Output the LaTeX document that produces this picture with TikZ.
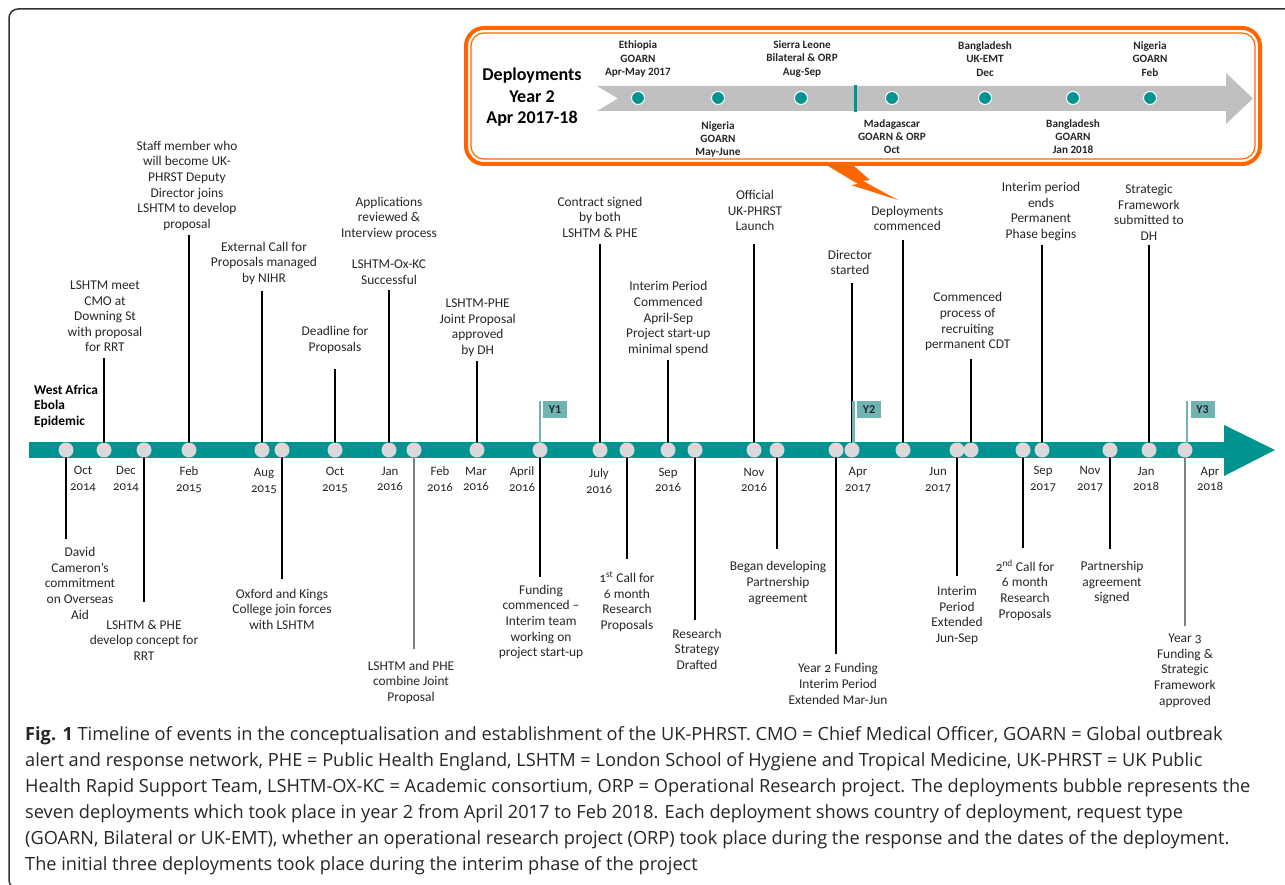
\documentclass[tikz,border=0pt]{standalone}
\usepackage{fontspec}
\setmainfont{Carlito}
\newfontfamily\capfont{Open Sans}
\definecolor{barteal}{RGB}{0,148,144}
\definecolor{dotgray}{RGB}{217,217,217}
\definecolor{flagteal}{RGB}{111,180,178}
\definecolor{bolt}{RGB}{255,102,0}
\definecolor{arrowgray}{RGB}{192,192,192}
\definecolor{ink}{RGB}{38,38,38}
\definecolor{framegray}{RGB}{51,51,51}

\begin{document}
\begin{tikzpicture}[x=1pt,y=-1pt]
  \tikzstyle{every node}+=[inner sep=0pt]
  \tikzstyle{lbl}=[align=center,inner ysep=4pt,text=ink,font=\fontsize{13.4}{15.6}\selectfont\addfontfeatures{Numbers=OldStyle}]
  \tikzstyle{month}=[align=center,text=ink,font=\fontsize{12.8}{15.7}\selectfont\addfontfeatures{Numbers=OldStyle}]
  \tikzstyle{evdot}=[circle,fill=dotgray,minimum size=15pt]
  \tikzstyle{stem}=[black,line width=1.2pt]
  \tikzstyle{greystem}=[gray,line width=1.2pt]
  \tikzstyle{flag}=[fill=flagteal,minimum width=24pt,minimum height=17pt,text=ink,font=\fontsize{12}{12}\selectfont\bfseries]
  \tikzstyle{pole}=[flagteal,line width=2.4pt]
  \tikzstyle{dep}=[align=center,text=ink,font=\fontsize{11.2}{13.2}\selectfont\bfseries]
  \tikzstyle{depdot}=[circle,fill=barteal,draw=white,line width=1pt,minimum size=13pt]

  \useasboundingbox (0,0) rectangle (1285,885);
  \clip (0,0) rectangle (1285,885);
  \draw [framegray,line width=1.5pt,rounded corners=9pt] (9,9) rectangle (1300,889);

  % deployments bubble
  \draw [bolt,line width=4pt,rounded corners=18pt] (466,28) rectangle (1260,164);
  \draw [bolt,line width=1.2pt,rounded corners=13pt] (471,33) rectangle (1255,159);
  \fill [bolt] (828,166) -- (854,166) -- (870,180) -- (863,181) -- (898,200) -- (851,185) -- (858,184) -- cycle;
  \fill [arrowgray] (597,86) -- (1226,86) -- (1226,73) -- (1253,98.5) -- (1226,124) -- (1226,111) -- (597,111) -- (618,98.5) -- cycle;
  \draw [barteal,line width=3pt] (855,85) -- (855,112);
  \node [text=black,align=center,font=\fontsize{18}{21.6}\selectfont\bfseries] (dtitle) at (532,97.5) {Deployments\\Year 2\\Apr 2017-18};

  \node [depdot] (d1) at (638,98) {};
    \node [dep] (t1) at (638,59) {Ethiopia\\GOARN\\Apr-May 2017};
  \node [depdot] (d2) at (718,98) {};
    \node [dep] (t2) at (718,139.3) {Nigeria\\GOARN\\May-June};
  \node [depdot] (d3) at (801,98) {};
    \node [dep] (t3) at (802,59) {Sierra Leone\\Bilateral \& ORP\\Aug-Sep};
  \node [depdot] (d4) at (892,98) {};
    \node [dep] (t4) at (892,136.4) {Madagascar\\GOARN \& ORP\\Oct};
  \node [depdot] (d5) at (985,98) {};
    \node [dep] (t5) at (985,59) {Bangladesh\\UK-EMT\\Dec};
  \node [depdot] (d6) at (1073,98) {};
    \node [dep] (t6) at (1073,136.4) {Bangladesh\\GOARN\\Jan 2018};
  \node [depdot] (d7) at (1150,98) {};
    \node [dep] (t7) at (1150,59) {Nigeria\\GOARN\\Feb};

  % main timeline
  \fill [barteal] (29,441.5) rectangle (1226,457.5);
  \fill [barteal] (1224,425) -- (1275,450) -- (1224,476) -- cycle;
  \node [anchor=west,align=left,text=black,font=\fontsize{13.4}{15.6}\selectfont\bfseries] (ebola) at (34,406) {West Africa\\Ebola\\Epidemic};

  \coordinate (e1) at (66,450);
  \coordinate (e2) at (104,450);
  \coordinate (e3) at (144,450);
  \coordinate (e4) at (189,450);
  \coordinate (e5) at (262,450);
  \coordinate (e6) at (282,450);
  \coordinate (e7) at (335,450);
  \coordinate (e8) at (389,450);
  \coordinate (e9) at (414,450);
  \coordinate (e10) at (477,450);
  \coordinate (e11) at (540,450);
  \coordinate (e12) at (600,450);
  \coordinate (e13) at (627,450);
  \coordinate (e14) at (668,450);
  \coordinate (e15) at (695,450);
  \coordinate (e16) at (754,450);
  \coordinate (e17) at (777,450);
  \coordinate (e18) at (836,450);
  \coordinate (e19) at (852,450);
  \coordinate (e20) at (903,450);
  \coordinate (e21) at (957,450);
  \coordinate (e22) at (971,450);
  \coordinate (e23) at (1023,450);
  \coordinate (e24) at (1042,450);
  \coordinate (e25) at (1110,450);
  \coordinate (e26) at (1149,450);
  \coordinate (e27) at (1185,450);

  % events above the line
  \node [lbl] (l2) at (105,316.3) {LSHTM meet\\CMO at\\Downing St\\with proposal\\for RRT};
    \draw [stem,shorten >=2pt] (e2) -- (e2 |- l2.south);
  \node [lbl] (l4) at (187,185.7) {Staff member who\\will become UK-\\PHRST Deputy\\Director joins\\LSHTM to develop\\proposal};
    \draw [stem] (e4) -- (e4 |- l4.south);
  \node [lbl] (l5) at (264,263.3) {External Call for\\Proposals managed\\by NIHR};
    \draw [stem,shorten >=2pt] (e5) -- (e5 |- l5.south);
  \node [lbl] (l7) at (335,340.2) {Deadline for\\Proposals};
    \draw [stem,shorten >=11pt] (e7) -- (e7 |- l7.south);
  \node [lbl] (l8) at (389,240.5) {Applications\\reviewed \&\\Interview process\\[15.6pt]LSHTM-Ox-KC\\Successful};
    \draw [stem,shorten >=2pt] (e8) -- (e8 |- l8.south);
  \node [lbl] (l10) at (477.7,327.8) {LSHTM-PHE\\Joint Proposal\\approved\\by DH};
    \draw [stem] (e10) -- (e10 |- l10.south);
  \node [lbl] (l12) at (600,217.2) {Contract signed\\by both\\LSHTM \& PHE};
    \draw [stem,shorten >=2pt] (e12) -- (e12 |- l12.south);
  \node [lbl] (l14) at (668.3,318.5) {Interim Period\\Commenced\\April-Sep\\Project start-up\\minimal spend};
    \draw [stem] (e14) -- (e14 |- l14.south);
  \node [lbl] (l16) at (755,210.5) {Official\\UK-PHRST\\Launch};
    \draw [stem,shorten >=8.5pt] (e16) -- (e16 |- l16.south);
  \node [lbl] (l19) at (850,262.5) {Director\\started};
    \draw [stem,shorten >=3.5pt] (e19) -- (e19 |- l19.south);
  \node [lbl] (l20) at (907.3,218.3) {Deployments\\commenced};
    \draw [stem,shorten >=5pt] (e20) -- (e20 |- l20.south);
  \node [lbl] (l22) at (967.7,321.7) {Commenced\\process of\\recruiting\\permanent CDT};
    \draw [stem,shorten >=3.5pt] (e22) -- (e22 |- l22.south);
  \node [lbl] (l24) at (1041,211.7) {Interim period\\ends\\Permanent\\Phase begins};
    \draw [stem] (e24) -- (e24 |- l24.south);
  \node [lbl] (l26) at (1149,212.5) {Strategic\\Framework\\submitted to\\DH};
    \draw [stem] (e26) -- (e26 |- l26.south);

  % events below the line
  \node [lbl] (l1) at (80,583.3) {David\\Cameron’s\\commitment\\on Overseas\\Aid};
    \draw [stem,shorten >=4.6pt] (e1) -- (e1 |- l1.north);
  \node [lbl] (l3) at (144,640.2) {LSHTM \& PHE\\develop concept for\\RRT};
    \draw [stem,shorten >=13.6pt] (e3) -- (e3 |- l3.north);
  \node [lbl] (l6) at (282,609.2) {Oxford and Kings\\College join forces\\with LSHTM};
    \draw [stem,shorten >=6pt] (e6) -- (e6 |- l6.north);
  \node [lbl] (l9) at (411,682.2) {LSHTM and PHE\\combine Joint\\Proposal};
    \draw [greystem,shorten >=7.3pt] (e9) -- (e9 |- l9.north);
  \node [lbl] (l11) at (541,622) {Funding\\commenced –\\Interim team\\working on\\project start-up};
    \draw [stem,shorten >=4.3pt] (e11) -- (e11 |- l11.north);
  \node [lbl] (l13) at (627,601.3) {1\textsuperscript{st} Call for\\6 month\\Research\\Proposals};
    \draw [stem,shorten >=8.3pt] (e13) -- (e13 |- l13.north);
  \node [lbl] (l15) at (697,649) {Research\\Strategy\\Drafted};
    \draw [stem,shorten >=4.9pt] (e15) -- (e15 |- l15.north);
  \node [lbl] (l17) at (778,583) {Began developing\\Partnership\\agreement};
    \draw [stem,shorten >=8.6pt] (e17) -- (e17 |- l17.north);
  \node [lbl] (l18) at (838,683.8) {Year 2 Funding\\Interim Period\\Extended Mar-Jun};
    \draw [stem,shorten >=5.6pt] (e18) -- (e18 |- l18.north);
  \node [lbl] (l21) at (957,615.6) {Interim\\Period\\Extended\\Jun-Sep};
    \draw [stem,shorten >=6.2pt] (e21) -- (e21 |- l21.north);
  \node [lbl] (l23) at (1025,590) {2\textsuperscript{nd} Call for\\6 month\\Research\\Proposals};
    \draw [stem,shorten >=7pt] (e23) -- (e23 |- l23.north);
  \node [lbl] (l25) at (1112,582.5) {Partnership\\agreement\\signed};
    \draw [stem,shorten >=8.3pt] (e25) -- (e25 |- l25.north);
  \node [lbl] (l27) at (1185,670.7) {Year 3\\Funding \&\\Strategic\\Framework\\approved};
    \draw [greystem,shorten >=4.3pt] (e27) -- (e27 |- l27.north);

  % year flags
  \node [flag] (y1) at (555,409.5) {Y1};
    \draw [pole] (e11) -- (e11 |- y1.north);
  \node [flag] (y2) at (869,409.5) {Y2};
    \draw [pole] ([xshift=1.5pt]e19) -- ([xshift=1.5pt]e19 |- y2.north);
  \node [flag] (y3) at (1202.5,409.5) {Y3};
    \draw [pole] ([xshift=2pt]e27) -- ([xshift=2pt]e27 |- y3.north);

  % dots on the line
  \foreach \n in {1,...,27}
    \node [evdot] (c\n) at (e\n) {};

  % months
  \node [month] (m1) at (83,479) {Oct\\2014};
  \node [month] (m2) at (126,479) {Dec\\2014};
  \node [month] (m3) at (189,480) {Feb\\2015};
  \node [month] (m4) at (264,481) {Aug\\2015};
  \node [month] (m5) at (335,480) {Oct\\2015};
  \node [month] (m6) at (390,479) {Jan\\2016};
  \node [month] (m7) at (440,479) {Feb\\2016};
  \node [month] (m8) at (476,479) {Mar\\2016};
  \node [month] (m9) at (522,479) {April\\2016};
  \node [month] (m10) at (599,481) {July\\2016};
  \node [month] (m11) at (668,480) {Sep\\2016};
  \node [month] (m12) at (754,480) {Nov\\2016};
  \node [month] (m13) at (858,480) {Apr\\2017};
  \node [month] (m14) at (938,480) {Jun\\2017};
  \node [month] (m15) at (1043,479) {Sep\\2017};
  \node [month] (m16) at (1090,479) {Nov\\2017};
  \node [month] (m17) at (1146,479) {Jan\\2018};
  \node [month] (m18) at (1210,479) {Apr\\2018};

  % caption
  \node [anchor=north west,align=left,text=ink,font=\capfont\fontsize{18.2}{25.9}\selectfont] (caption) at (25,726.5) {\textbf{Fig. 1} Timeline of events in the conceptualisation and establishment of the UK-PHRST. CMO = Chief Medical Officer, GOARN = Global outbreak\\alert and response network, PHE = Public Health England, LSHTM = London School of Hygiene and Tropical Medicine, UK-PHRST = UK Public\\Health Rapid Support Team, LSHTM-OX-KC = Academic consortium, ORP = Operational Research project. The deployments bubble represents the\\seven deployments which took place in year 2 from April 2017 to Feb 2018. Each deployment shows country of deployment, request type\\(GOARN, Bilateral or UK-EMT), whether an operational research project (ORP) took place during the response and the dates of the deployment.\\The initial three deployments took place during the interim phase of the project};
\end{tikzpicture}
\end{document}
